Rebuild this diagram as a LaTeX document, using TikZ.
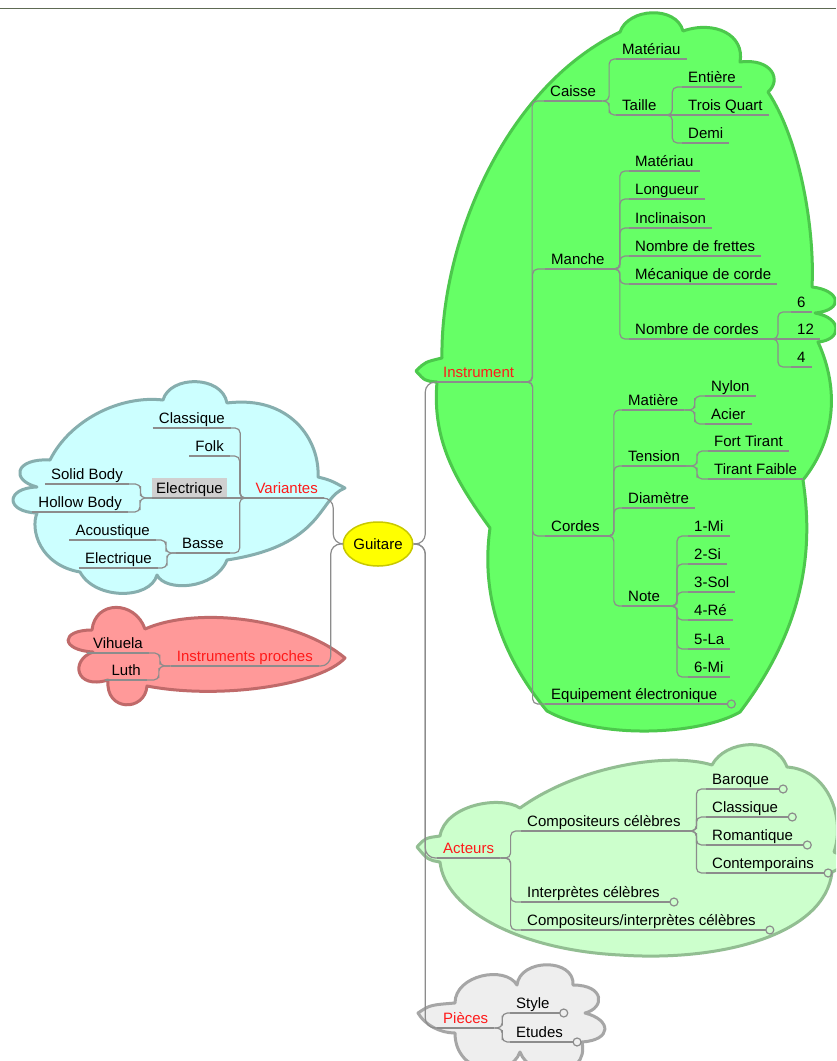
\documentclass[tikz,border=0pt]{standalone}
\usepackage{fontspec}
\setmainfont{Liberation Sans}
\usepackage{tikz}
\usetikzlibrary{calc,shapes.geometric}

\definecolor{varfill}{HTML}{CCFFFF}
\definecolor{varline}{HTML}{86AEAE}
\definecolor{profill}{HTML}{FF9999}
\definecolor{proline}{HTML}{C06A6A}
\definecolor{insfill}{HTML}{66FF66}
\definecolor{insline}{HTML}{4CC84C}
\definecolor{actfill}{HTML}{CCFFCC}
\definecolor{actline}{HTML}{92BE92}
\definecolor{piefill}{HTML}{EEEEEE}
\definecolor{pieline}{HTML}{A6A6A6}
\definecolor{linkgray}{HTML}{8C8C8C}
\definecolor{rootfill}{HTML}{FFFF00}
\definecolor{rootline}{HTML}{C8C800}
\definecolor{hilite}{HTML}{D0D0D0}
\definecolor{rulegray}{HTML}{5E6A54}
\definecolor{toptext}{HTML}{FF1A1A}

\newcommand{\mapfont}{\fontsize{15}{18}\selectfont}

\begin{document}
\begin{tikzpicture}[x=1pt, y=-1pt,
    link/.style={draw=linkgray, line width=1.2pt},
    branch/.style={link, rounded corners=5pt, to path={-| ($(\tikztostart)!0.5!(\tikztotarget)$) |- (\tikztotarget)}},
    rootbranch/.style={branch, rounded corners=10pt},
    topic/.style={anchor=south west, inner xsep=6pt, inner ysep=4.5pt, text depth=0pt, font=\mapfont},
    lefttopic/.style={topic, anchor=south east},
    maintopic/.style={topic, text=toptext},
    mainleft/.style={lefttopic, text=toptext},
    root/.style={ellipse, draw=rootline, fill=rootfill, line width=1.5pt, minimum width=66pt, minimum height=44pt, inner sep=0pt, font=\mapfont},
    cloud/.style={line width=3pt, line join=round}]

\clip (0,0) rectangle (836,1061);
\fill[white] (0,0) rectangle (836,1061);
\draw[rulegray, line width=1pt] (0,8) -- (836,8);

% nuages
\draw[cloud, draw=varline, fill=varfill] (163,400) .. controls (170,375) and (222,375) .. (227,403)
    .. controls (290,395) and (320,440) .. (318,477) .. controls (330,480) .. (345,488)
    .. controls (318,498) and (325,545) .. (227,560) .. controls (215,590) and (165,592) .. (157,575)
    .. controls (150,600) and (95,600) .. (80,572) .. controls (40,565) and (30,530) .. (37,513)
    .. controls (5,512) and (5,488) .. (37,487) .. controls (10,480) and (15,458) .. (50,460)
    .. controls (70,420) and (120,395) .. (163,400) -- cycle;
\draw[cloud, draw=proline, fill=profill] (345,658) .. controls (300,620) and (200,605) .. (145,629)
    .. controls (135,600) and (95,600) .. (92,630) .. controls (60,630) and (60,650) .. (93,652)
    .. controls (70,660) and (75,690) .. (108,680) .. controls (105,712) and (145,712) .. (147,686)
    .. controls (220,700) and (320,685) .. (345,658) -- cycle;
\draw[cloud, draw=insline, fill=insfill] (490,528) .. controls (455,480) and (432,440) .. (437,382)
    .. controls (425,381) .. (416,371) .. controls (425,362) .. (442,358)
    .. controls (440,250) and (500,90) .. (620,32) .. controls (628,8) and (676,5) .. (683,31)
    .. controls (715,20) and (745,35) .. (740,62) .. controls (772,58) and (782,80) .. (768,92)
    .. controls (800,140) and (815,230) .. (812,287) .. controls (840,290) and (845,310) .. (815,313)
    .. controls (843,318) and (842,340) .. (818,342) .. controls (840,390) and (835,440) .. (803,480)
    .. controls (812,540) and (810,620) .. (740,712) .. controls (700,735) and (600,740) .. (547,711)
    .. controls (505,660) and (480,600) .. (490,528) -- cycle;
\draw[cloud, draw=actline, fill=actfill] (417,847) .. controls (425,838) .. (440,836)
    .. controls (445,805) and (500,795) .. (520,808) .. controls (580,765) and (670,752) .. (712,765)
    .. controls (725,740) and (775,735) .. (787,767) .. controls (830,770) and (845,820) .. (834,852)
    .. controls (845,855) and (845,868) .. (832,872) .. controls (825,935) and (720,962) .. (620,955)
    .. controls (520,950) and (445,910) .. (440,862) .. controls (428,860) .. (417,847) -- cycle;
\draw[cloud, draw=pieline, fill=piefill] (418,1013) .. controls (430,1005) .. (455,1003)
    .. controls (455,975) and (505,965) .. (517,985) .. controls (520,958) and (575,958) .. (573,985)
    .. controls (605,985) and (605,1008) .. (585,1013) .. controls (612,1020) and (612,1040) .. (582,1042)
    .. controls (590,1080) and (530,1080) .. (520,1052) .. controls (510,1080) and (455,1075) .. (455,1033)
    .. controls (440,1033) and (425,1025) .. (418,1013) -- cycle;

% centre
\node[root] (guitare) at (378,544) {Guitare};

% Variantes et Instruments proches
\node[mainleft] (variantes) at (324,498) {Variantes};
\node[lefttopic] (classiqueV) at (231,428) {Classique};
\node[lefttopic] (folk) at (230,456) {Folk};
\node[lefttopic, fill=hilite, inner xsep=4pt] (electriqueV) at (227,498) {Electrique};
\node[lefttopic] (basse) at (230,553) {Basse};
\node[lefttopic] (solidbody) at (129,484) {Solid Body};
\node[lefttopic] (hollowbody) at (128,512) {Hollow Body};
\node[lefttopic] (acoustique) at (156,540) {Acoustique};
\node[lefttopic] (electriqueB) at (158,568) {Electrique};
\node[mainleft] (proches) at (319,666) {Instruments proches};
\node[lefttopic] (vihuela) at (149,653) {Vihuela};
\node[lefttopic] (luth) at (147,680) {Luth};

% Instrument
\node[maintopic] (instrument) at (437,382) {Instrument};
\node[topic] (caisse) at (544,101) {Caisse};
\node[topic] (materiauC) at (616,59) {Matériau};
\node[topic] (taille) at (616,115) {Taille};
\node[topic] (entiere) at (682,87) {Entière};
\node[topic] (troisquart) at (682,115) {Trois Quart};
\node[topic] (demi) at (682,143) {Demi};
\node[topic] (manche) at (545,269) {Manche};
\node[topic] (materiauM) at (629,171) {Matériau};
\node[topic] (longueur) at (629,199) {Longueur};
\node[topic] (inclinaison) at (629,228) {Inclinaison};
\node[topic] (frettes) at (629,256) {Nombre de frettes};
\node[topic] (mecanique) at (629,284) {Mécanique de corde};
\node[topic] (nbcordes) at (629,339) {Nombre de cordes};
\node[topic] (six) at (791,312) {6};
\node[topic] (douze) at (791,339) {12};
\node[topic] (quatre) at (791,367) {4};
\node[topic] (cordes) at (545,536) {Cordes};
\node[topic] (matiere) at (622,410) {Matière};
\node[topic] (nylon) at (705,396) {Nylon};
\node[topic] (acier) at (705,424) {Acier};
\node[topic] (tension) at (622,466) {Tension};
\node[topic] (forttirant) at (708,451) {Fort Tirant};
\node[topic] (tirantfaible) at (708,479) {Tirant Faible};
\node[topic] (diametre) at (622,508) {Diamètre};
\node[topic] (note) at (622,606) {Note};
\node[topic] (mi1) at (688,536) {1-Mi};
\node[topic] (si2) at (688,564) {2-Si};
\node[topic] (sol3) at (688,592) {3-Sol};
\node[topic] (re4) at (688,620) {4-Ré};
\node[topic] (la5) at (688,649) {5-La};
\node[topic] (mi6) at (688,677) {6-Mi};
\node[topic] (equipement) at (545,704) {Equipement électronique};

% Acteurs
\node[maintopic] (acteurs) at (437,858) {Acteurs};
\node[topic] (compositeurs) at (521,831) {Compositeurs célèbres};
\node[topic] (baroque) at (706,789) {Baroque};
\node[topic] (classiqueA) at (706,817) {Classique};
\node[topic] (romantique) at (706,845) {Romantique};
\node[topic] (contemporains) at (706,873) {Contemporains};
\node[topic] (interpretes) at (521,902) {Interprètes célèbres};
\node[topic] (compinterp) at (521,930) {Compositeurs/interprètes célèbres};

% Pièces
\node[maintopic] (pieces) at (437,1028) {Pièces};
\node[topic] (stylep) at (510,1013) {Style};
\node[topic] (etudes) at (510,1042) {Etudes};

% soulignements
\foreach \n in {variantes,classiqueV,folk,electriqueV,basse,solidbody,hollowbody,acoustique,electriqueB,
    proches,vihuela,luth,instrument,caisse,materiauC,taille,entiere,troisquart,demi,manche,materiauM,
    longueur,inclinaison,frettes,mecanique,nbcordes,six,douze,quatre,cordes,matiere,nylon,acier,tension,
    forttirant,tirantfaible,diametre,note,mi1,si2,sol3,re4,la5,mi6,equipement,acteurs,compositeurs,
    baroque,classiqueA,romantique,contemporains,interpretes,compinterp,pieces,stylep,etudes}
  \draw[link] (\n.south west) -- (\n.south east);

% petits ronds en bout de branche
\foreach \n in {equipement,baroque,classiqueA,romantique,contemporains,interpretes,compinterp,stylep,etudes} {
  \draw[link] (\n.south east) -- ++(4,0) coordinate (\n-tip);
  \draw[link] (\n-tip) ++(4,0) circle[radius=4];
}

% branches depuis le centre
\foreach \c in {instrument,acteurs,pieces}
  \draw[rootbranch] (guitare.east) to (\c.south west);
\foreach \c in {variantes,proches}
  \draw[rootbranch] (guitare.west) to (\c.south east);

% branches vers la gauche
\draw[link] (variantes.south west) -- (electriqueV.south east);
\foreach \p/\c in {variantes/classiqueV,variantes/folk,variantes/basse,electriqueV/solidbody,
    electriqueV/hollowbody,basse/acoustique,basse/electriqueB,proches/vihuela,proches/luth}
  \draw[branch] (\p.south west) to (\c.south east);

% branches vers la droite
\draw[link] (taille.south east) -- (troisquart.south west);
\draw[link] (nbcordes.south east) -- (douze.south west);
\foreach \p/\c in {instrument/caisse,instrument/manche,instrument/cordes,instrument/equipement,
    caisse/materiauC,caisse/taille,taille/entiere,taille/demi,
    manche/materiauM,manche/longueur,manche/inclinaison,manche/frettes,manche/mecanique,manche/nbcordes,
    nbcordes/six,nbcordes/quatre,
    cordes/matiere,cordes/tension,cordes/diametre,cordes/note,matiere/nylon,matiere/acier,
    tension/forttirant,tension/tirantfaible,note/mi1,note/si2,note/sol3,note/re4,note/la5,note/mi6,
    acteurs/compositeurs,acteurs/interpretes,acteurs/compinterp,
    compositeurs/baroque,compositeurs/classiqueA,compositeurs/romantique,compositeurs/contemporains,
    pieces/stylep,pieces/etudes}
  \draw[branch] (\p.south east) to (\c.south west);
\end{tikzpicture}
\end{document}
